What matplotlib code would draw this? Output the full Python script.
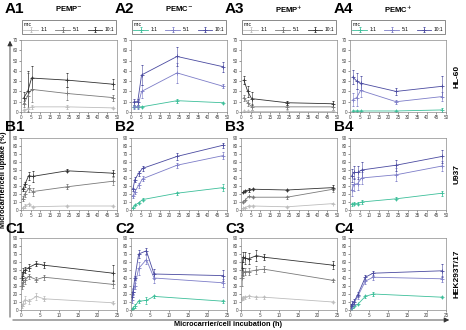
import matplotlib
matplotlib.use("Agg")
import matplotlib.pyplot as plt

plt.rcParams['font.family'] = ['Liberation Sans', 'DejaVu Sans']

# time points (h)
t_a = [1.5, 3.5, 5.5, 24, 48]
t_b = [1, 2, 4, 6, 24, 48]
t_c = [0.25, 0.5, 1, 2, 4, 6, 24]

ratios = ['1:1', '5:1', '10:1']
grey_cols = ['#bdbdbd', '#7a7a7a', '#333333']
blue_cols = ['#3dbf9a', '#7d7dc8', '#4a4aa0']

# values per panel: [1:1, 5:1, 10:1]
a1 = [[2, 3, 5, 5, 4], [8, 16, 22, 18, 14], [14, 20, 33, 31, 27]]
a1_err = [[1, 2, 2, 2, 1], [3, 22, 12, 6, 3], [5, 20, 12, 7, 5]]
a2 = [[5, 5, 5, 11, 9], [5, 5, 20, 38, 25], [10, 10, 36, 54, 44]]
a2_err = [[1, 1, 1, 2, 1], [2, 2, 6, 10, 2], [3, 3, 10, 9, 5]]
a3 = [[1, 1, 1, 1, 1], [14, 9, 5, 5, 5], [31, 20, 13, 9, 8]]
a3_err = [[1, 1, 1, 1, 1], [3, 3, 3, 2, 3], [4, 5, 6, 2, 3]]
a4 = [[1, 1, 1, 1, 2], [12, 14, 21, 10, 15], [34, 30, 28, 20, 25]]
a4_err = [[1, 1, 1, 1, 2], [6, 8, 6, 2, 4], [7, 8, 7, 3, 10]]

b1 = [[3, 5, 7, 4, 5, 5], [14, 20, 27, 23, 29, 36], [26, 32, 43, 42, 49, 46]]
b1_err = [[1, 2, 2, 1, 1, 1], [3, 4, 4, 5, 3, 5], [2, 3, 5, 7, 2, 4]]
b2 = [[3, 6, 9, 13, 21, 28], [17, 23, 31, 39, 56, 68], [26, 38, 46, 52, 67, 81]]
b2_err = [[1, 1, 1, 2, 2, 4], [2, 3, 3, 3, 3, 4], [2, 3, 3, 3, 4, 3]]
b3 = [[2, 3, 5, 5, 4, 8], [10, 12, 17, 16, 16, 26], [22, 24, 25, 26, 25, 28]]
b3_err = [[1, 1, 1, 1, 1, 1], [1, 1, 1, 1, 2, 3], [1, 1, 2, 1, 1, 3]]
b4 = [[7, 8, 8, 10, 14, 21], [25, 32, 33, 40, 44, 55], [43, 47, 47, 50, 56, 67]]
b4_err = [[2, 2, 2, 2, 2, 3], [8, 8, 8, 8, 8, 6], [8, 8, 8, 10, 7, 8]]

c1 = [[5, 8, 13, 11, 17, 14, 9], [30, 35, 37, 42, 38, 41, 32], [40, 47, 50, 53, 58, 56, 46]]
c1_err = [[2, 3, 4, 3, 4, 3, 2], [4, 5, 4, 3, 3, 3, 5], [3, 5, 4, 4, 3, 4, 10]]
c2 = [[1, 2, 5, 11, 12, 17, 11], [13, 23, 30, 52, 63, 40, 34], [16, 23, 40, 70, 74, 45, 43]]
c2_err = [[1, 1, 2, 2, 4, 2, 2], [4, 4, 4, 8, 6, 6, 5], [3, 3, 3, 5, 4, 6, 7]]
c3 = [[14, 15, 16, 17, 16, 16, 10], [40, 47, 48, 48, 50, 51, 37], [52, 66, 65, 64, 68, 66, 56]]
c3_err = [[2, 2, 2, 2, 2, 2, 1], [10, 5, 4, 4, 5, 4, 2], [8, 6, 8, 7, 7, 4, 5]]
c4 = [[2, 3, 5, 7, 17, 20, 16], [3, 5, 8, 17, 36, 41, 39], [5, 7, 10, 19, 41, 46, 49]]
c4_err = [[1, 1, 1, 1, 2, 2, 1], [3, 3, 3, 3, 3, 3, 4], [3, 4, 4, 3, 3, 3, 8]]

col_titles = ['PEMP$^{-}$', 'PEMC$^{-}$', 'PEMP$^{+}$', 'PEMC$^{+}$']
row_names = ['HL-60', 'U937', 'HEK293T/17']
row_letters = ['A', 'B', 'C']

rows = [
    (t_a, [(a1, a1_err), (a2, a2_err), (a3, a3_err), (a4, a4_err)], 70, 50),
    (t_b, [(b1, b1_err), (b2, b2_err), (b3, b3_err), (b4, b4_err)], 90, 50),
    (t_c, [(c1, c1_err), (c2, c2_err), (c3, c3_err), (c4, c4_err)], 90, 25),
]

W, H = 466, 330
fig = plt.figure(figsize=(W / 100, H / 100), dpi=100)

lefts = [21, 131, 241, 350]
tops = [40, 138, 238]
label_y = [9, 127, 229]
aw, ah = 96, 72

for r, (t, panels, ymax, xmax) in enumerate(rows):
    for c, (vals, errs) in enumerate(panels):
        ax = fig.add_axes([lefts[c] / W, 1 - (tops[r] + ah) / H, aw / W, ah / H])
        cols = grey_cols if c % 2 == 0 else blue_cols
        for k in range(3):
            ax.errorbar(t, vals[k], yerr=errs[k], color=cols[k], lw=0.6,
                        elinewidth=0.4, capsize=1, capthick=0.4,
                        marker='+', ms=2.5, mew=0.6, label=ratios[k])
        ax.set_xlim(0, xmax)
        ax.set_ylim(0, ymax)
        ax.set_xticks(range(0, xmax + 1, 5))
        ax.set_yticks(range(0, ymax + 1, 10))
        ax.tick_params(labelsize=3.3, length=1.2, width=0.4, pad=1,
                       colors='#444444')
        for s in ax.spines.values():
            s.set_color('#8a8a8a')
            s.set_linewidth(0.5)
        # panel label
        fig.text((lefts[c] - 16) / W, 1 - label_y[r] / H,
                 row_letters[r] + str(c + 1), fontsize=11, fontweight='bold',
                 va='center', ha='left')
        if r == 0:
            fig.text((lefts[c] + aw / 2) / W, 1 - 9 / H, col_titles[c],
                     fontsize=5.5, fontweight='bold', ha='center', va='center')
            leg = ax.legend(ncol=3, title='m:c', fontsize=3.5, title_fontsize=3.5,
                            loc='lower center', bbox_to_anchor=(0.5, 1.05),
                            frameon=True, fancybox=False, edgecolor='#555555',
                            handlelength=3.0, columnspacing=1.6,
                            borderpad=0.35, labelspacing=0.1, handletextpad=0.6,
                            alignment='left')
            leg.get_frame().set_linewidth(0.6)
    fig.text(457 / W, 1 - (tops[r] + ah / 2) / H, row_names[r], rotation=90,
             fontsize=6, fontweight='bold', ha='center', va='center')

# outer arrow axes
fig.add_artist(matplotlib.patches.FancyArrowPatch(
    (10 / W, 1 - 320 / H), (10 / W, 1 - 38 / H), transform=fig.transFigure,
    arrowstyle='-|>,head_length=3,head_width=1.5', lw=0.6, color='#333333'))
fig.add_artist(matplotlib.patches.FancyArrowPatch(
    (10 / W, 1 - 320 / H), (452 / W, 1 - 320 / H), transform=fig.transFigure,
    arrowstyle='-|>,head_length=3,head_width=1.5', lw=0.6, color='#333333'))

fig.text(4 / W, 1 - 180 / H, 'Microcarrier/cell uptake (%)', rotation=90,
         fontsize=5.3, fontweight='bold', ha='center', va='center')
fig.text(228 / W, 1 - 325 / H, 'Microcarrier/cell incubation (h)',
         fontsize=5.3, fontweight='bold', ha='center', va='center')

fig.savefig('out.png', dpi=100)
